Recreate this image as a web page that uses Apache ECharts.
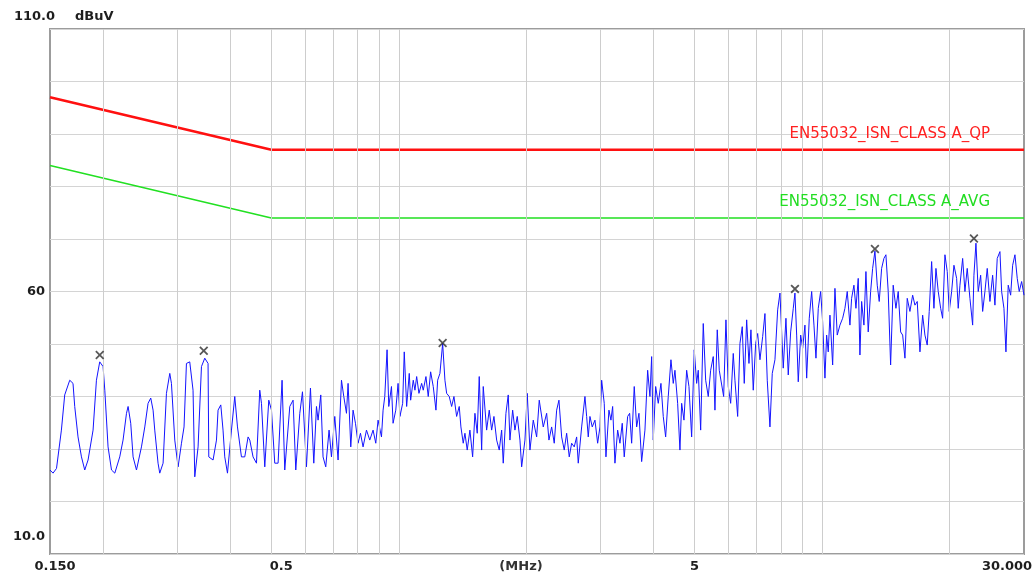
<!DOCTYPE html>
<html>
<head>
<meta charset="utf-8">
<script src="https://cdn.jsdelivr.net/npm/echarts@6/dist/echarts.min.js"></script>
<style>
  html, body { margin: 0; padding: 0; background: #ffffff; }
  #chart { width: 1034px; height: 575px; }
</style>
</head>
<body>
<div id="chart"></div>
<script>
// Conducted emission pre-scan: frequency (MHz) and measured level (dBuV)
const freqMHz = [
  0.150, 0.1525, 0.1554, 0.1596, 0.1625, 0.1670, 0.1700, 0.1716, 0.1747, 0.1780,
  0.1812, 0.1845, 0.1896, 0.1931, 0.1966, 0.2002, 0.2021, 0.2057, 0.2096, 0.2134,
  0.2192, 0.2232, 0.2274, 0.2294, 0.2327, 0.2357, 0.2401, 0.2467, 0.2512, 0.2557,
  0.2595, 0.2628, 0.2652, 0.2700, 0.2725, 0.2775, 0.2826, 0.2878, 0.2904, 0.2957,
  0.3011, 0.3067, 0.3110, 0.3151, 0.3208, 0.3266, 0.3297, 0.3357, 0.3419, 0.3481,
  0.3544, 0.3558, 0.3642, 0.3710, 0.3742, 0.3798, 0.3845, 0.3881, 0.3939, 0.4025,
  0.4098, 0.4159, 0.4250, 0.4327, 0.4406, 0.4447, 0.4527, 0.4612, 0.4695, 0.4739,
  0.4825, 0.4931, 0.5004, 0.5094, 0.5187, 0.5301, 0.5379, 0.5528, 0.5628, 0.5711,
  0.5837, 0.5923, 0.6053, 0.6186, 0.6299, 0.6392, 0.6448, 0.6543, 0.6625, 0.6723,
  0.6845, 0.6935, 0.7061, 0.7189, 0.7323, 0.7415, 0.7525, 0.7591, 0.7703, 0.7800,
  0.7902, 0.8015, 0.8120, 0.8236, 0.8390, 0.8542, 0.8697, 0.8825, 0.8936, 0.9103,
  0.9183, 0.9268, 0.9384, 0.9472, 0.9612, 0.9696, 0.9839, 0.9963,
  1.0065, 1.0215, 1.0304, 1.0439, 1.0588, 1.0669, 1.0821, 1.0921, 1.1023, 1.1161,
  1.1326, 1.1426, 1.1594, 1.1740, 1.1894, 1.2064, 1.2242, 1.2356, 1.2511, 1.2697,
  1.2856, 1.2976, 1.3160, 1.3334, 1.3502, 1.3701, 1.3896, 1.4024, 1.4201, 1.4333,
  1.4513, 1.4727, 1.4947, 1.5135, 1.5326, 1.5494, 1.5698, 1.5835, 1.6130, 1.6360,
  1.6576, 1.6784, 1.7033, 1.7275, 1.7502, 1.7655, 1.7915, 1.8142, 1.8309, 1.8582,
  1.8815, 1.9052, 1.9333, 1.9514, 1.9866, 2.0117, 2.0414, 2.0785, 2.1173, 2.1474,
  2.1947, 2.2356, 2.2638, 2.2973, 2.3300, 2.3606, 2.3903, 2.4257, 2.4602, 2.4925,
  2.5280, 2.5613, 2.5977, 2.6320, 2.6550, 2.7045, 2.7534, 2.7790, 2.8034, 2.8293,
  2.8650, 2.9073, 2.9505, 2.9875, 3.0153, 3.0582, 3.0866, 3.1375, 3.1717, 3.2014,
  3.2414, 3.2896, 3.3308, 3.3729, 3.4098, 3.4735, 3.5114, 3.5499, 3.6004, 3.6477,
  3.6937, 3.7483, 3.8160, 3.8728, 3.9213, 3.9579, 3.9926, 4.0451, 4.1027, 4.1632,
  4.2158, 4.2712, 4.3321, 4.3959, 4.4515, 4.4927, 4.5593, 4.6165, 4.6595, 4.7182,
  4.7879, 4.8483, 4.9200, 4.9900, 5.0557, 5.1000, 5.1670, 5.2406, 5.3095, 5.3852,
  5.4559, 5.5337, 5.5847, 5.6552, 5.7170, 5.8556, 5.9291, 6.0042, 6.0830, 6.1698,
  6.2266, 6.3191, 6.3983, 6.4791, 6.5498, 6.6361, 6.7197, 6.7929, 6.8788, 6.9691,
  7.0453, 7.1337, 7.2396, 7.3304, 7.4230, 7.5325, 7.6277, 7.7403, 7.8552, 7.9537,
  8.0983, 8.2176, 8.3216, 8.4309, 8.5511, 8.6299, 8.7104, 8.7868, 8.9022, 8.9996,
  9.1124, 9.1974, 9.3283, 9.4510, 9.5701, 9.6744, 9.7968, 9.9254,
  10.033, 10.159, 10.253, 10.343, 10.439, 10.594, 10.727, 10.862, 11.023, 11.186,
  11.326, 11.469, 11.638, 11.746, 11.894, 12.025, 12.176, 12.289, 12.403, 12.559,
  12.697, 12.856, 13.026, 13.168, 13.334, 13.502, 13.649, 13.828, 14.002, 14.155,
  14.333, 14.522, 14.727, 14.947, 15.135, 15.335, 15.503, 15.698, 15.895, 16.130,
  16.370, 16.576, 16.784, 17.033, 17.285, 17.502, 17.722, 17.915, 18.151, 18.380,
  18.582, 18.815, 19.063, 19.271, 19.514, 19.760, 19.975, 20.237, 20.493, 20.795,
  20.976, 21.173, 21.487, 21.756, 22.030, 22.356, 22.688, 22.848, 23.099, 23.388,
  23.697, 23.956, 24.257, 24.563, 24.925, 25.295, 25.613, 25.935, 26.320, 26.564,
  26.899, 27.193, 27.534, 27.898, 28.203, 28.557, 28.916, 29.232, 29.617, 30.000
];

const levelDbuV = [
  26.0, 25.4, 26.3, 33.6, 40.3, 43.1, 42.5, 38.1, 32.3, 28.5,
  26.0, 27.9, 33.6, 43.1, 46.6, 45.7, 41.2, 30.4, 26.0, 25.4,
  28.5, 31.7, 36.8, 38.1, 34.9, 28.5, 26.0, 30.4, 34.2, 38.7,
  39.7, 37.4, 33.6, 27.3, 25.4, 27.3, 40.6, 44.4, 42.5, 31.7,
  26.6, 31.1, 34.2, 46.3, 46.6, 41.2, 24.7, 30.4, 45.7, 47.3,
  46.3, 28.5, 27.9, 31.7, 37.4, 38.4, 33.6, 28.5, 25.4, 33.6,
  40.0, 34.2, 28.5, 28.5, 32.3, 31.7, 28.5, 27.3, 41.2, 38.7,
  26.6, 39.3, 37.4, 27.3, 27.3, 43.1, 26.0, 38.1, 39.3, 26.0,
  36.8, 40.9, 26.6, 41.6, 27.3, 38.1, 35.5, 40.3, 28.5, 26.6,
  33.6, 28.5, 36.2, 27.9, 43.1, 40.0, 36.8, 42.5, 30.4, 37.4,
  34.9, 31.1, 33.0, 30.4, 33.6, 31.7, 33.6, 31.1, 35.5, 32.3,
  37.4, 40.0, 48.9, 38.1, 41.9, 34.9, 37.4, 42.5,
  36.2, 38.7, 48.5, 38.1, 44.4, 39.3, 43.1, 41.2, 43.8, 40.6,
  42.5, 41.2, 43.8, 40.0, 44.7, 41.9, 37.4, 43.1, 44.4, 50.1,
  43.1, 40.6, 40.0, 38.1, 40.0, 36.2, 38.1, 34.2, 31.1, 33.0,
  29.8, 33.6, 28.5, 36.8, 33.0, 43.8, 29.8, 41.9, 33.6, 37.4,
  33.6, 36.2, 31.7, 29.8, 33.6, 27.3, 36.8, 40.3, 31.7, 37.4,
  33.6, 36.2, 31.7, 26.6, 31.7, 40.6, 29.8, 35.5, 32.3, 39.3,
  34.2, 36.8, 31.7, 34.2, 31.1, 37.4, 39.3, 32.3, 29.8, 33.0,
  28.5, 31.1, 30.4, 32.3, 27.3, 34.2, 40.0, 36.2, 32.3, 36.2,
  34.2, 35.5, 31.1, 34.2, 43.1, 38.7, 28.5, 37.4, 35.5, 38.1,
  27.3, 33.6, 31.1, 34.9, 28.5, 36.2, 36.8, 31.1, 41.9, 34.2,
  36.8, 27.6, 33.6, 45.0, 40.0, 47.6, 31.7, 41.9, 38.7, 42.5,
  36.2, 32.3, 40.0, 47.0, 42.5, 45.0, 38.7, 29.8, 38.7, 35.5,
  45.0, 41.9, 32.3, 48.9, 42.5, 45.0, 33.6, 53.9, 43.1, 40.0,
  45.0, 47.6, 37.4, 52.7, 45.0, 40.0, 54.6, 41.9, 38.7, 48.2,
  43.1, 36.2, 50.1, 53.3, 42.5, 54.6, 46.3, 52.7, 41.2, 50.1,
  52.0, 47.0, 51.4, 55.8, 43.1, 34.2, 44.4, 47.0, 56.5, 59.7,
  45.4, 54.9, 44.1, 52.3, 56.8, 59.7, 51.7, 42.8, 51.7, 49.2,
  53.6, 43.5, 54.9, 60.0, 53.6, 47.3, 56.8, 60.0,
  54.2, 43.5, 51.7, 48.5, 55.5, 46.0, 60.6, 51.7, 53.6, 54.9,
  56.8, 60.0, 53.6, 58.7, 61.2, 56.8, 62.5, 47.9, 58.1, 53.6,
  63.8, 52.3, 60.0, 64.4, 67.7, 61.2, 58.1, 64.4, 66.3, 67.0,
  60.0, 46.0, 61.2, 56.8, 60.0, 52.3, 51.7, 47.3, 58.7, 56.2,
  59.3, 57.4, 58.1, 48.5, 55.5, 51.7, 49.8, 56.2, 65.7, 56.8,
  64.4, 60.0, 56.8, 54.9, 67.0, 63.8, 56.2, 60.0, 65.0, 62.5,
  56.8, 61.2, 66.3, 60.0, 64.4, 58.7, 53.6, 63.1, 69.2, 60.0,
  63.1, 56.2, 60.0, 64.4, 58.1, 63.1, 57.4, 66.3, 67.6, 60.0,
  56.8, 48.5, 61.2, 59.3, 65.0, 67.0, 62.5, 60.0, 61.9, 59.3
];

// Marked peaks
const peakFreqMHz = [0.1966, 0.3462, 1.2697, 8.630, 13.334, 22.848];
const peakLevel = [47.9, 48.7, 50.2, 60.5, 68.1, 70.1];

// EN 55032 class A limits for the ISN (telecom) port
const limitFreqMHz = [0.15, 0.5, 30];
const qpLimit = [97, 87, 87];
const avgLimit = [84, 74, 74];
const qpName = 'EN55032_ISN_CLASS A_QP';
const avgName = 'EN55032_ISN_CLASS A_AVG';

// Axis ticks and labels
const gridFreqMHz = [0.2, 0.3, 0.4, 0.5, 0.6, 0.7, 0.8, 0.9, 1, 2, 3, 4, 5, 6, 7, 8, 9, 10, 20];
const xTickValues = [0.15, 0.5, 5, 30];
const xTickLabels = ['0.150', '0.5', '5', '30.000'];
const yTickValues = [110, 60, 10];
const yTickLabels = ['110.0', '60', '10.0'];
const xUnit = '(MHz)';
const yUnit = 'dBuV';

const pairs = (xs, ys) => xs.map((x, i) => [x, ys[i]]);

const chart = echarts.init(document.getElementById('chart'), null, { renderer: 'canvas' });

const crossSymbol = 'path://M0,1.4L1.4,0L5,3.6L8.6,0L10,1.4L6.4,5L10,8.6L8.6,10L5,6.4L1.4,10L0,8.6L3.6,5Z';

chart.setOption({
  animation: false,
  backgroundColor: '#ffffff',
  grid: {
    left: 50, right: 10, top: 29, bottom: 21,
    show: true,
    borderColor: '#9c9c9c',
    borderWidth: 2,
    backgroundColor: 'transparent',
    outerBoundsMode: 'none'
  },
  xAxis: {
    type: 'log',
    logBase: 10,
    min: 0.15,
    max: 30,
    axisLine: { show: false },
    axisTick: { show: false },
    axisLabel: { show: false },
    splitLine: { show: false }
  },
  yAxis: {
    type: 'value',
    min: 10,
    max: 110,
    interval: 10,
    axisLine: { show: false },
    axisTick: { show: false },
    axisLabel: { show: false },
    splitLine: { show: true, lineStyle: { color: '#d4d4d4', width: 1 } }
  },
  series: [
    {
      // vertical decade grid (1-2-3...9 per decade)
      type: 'line',
      data: [],
      z: 1,
      silent: true,
      markLine: {
        silent: true,
        symbol: ['none', 'none'],
        label: { show: false },
        animation: false,
        lineStyle: { color: '#cdcdcd', width: 1, type: 'solid' },
        data: gridFreqMHz.map(f => ({ xAxis: f }))
      }
    },
    {
      name: qpName,
      type: 'line',
      data: pairs(limitFreqMHz, qpLimit),
      showSymbol: false,
      z: 3,
      lineStyle: { color: '#ff1010', width: 2.5 }
    },
    {
      name: avgName,
      type: 'line',
      data: pairs(limitFreqMHz, avgLimit),
      showSymbol: false,
      z: 3,
      lineStyle: { color: '#22e022', width: 1.6 }
    },
    {
      name: 'Level',
      type: 'line',
      data: pairs(freqMHz, levelDbuV),
      showSymbol: false,
      z: 4,
      lineStyle: { color: '#1414ff', width: 1 }
    },
    {
      name: 'Peaks',
      type: 'scatter',
      data: pairs(peakFreqMHz, peakLevel),
      symbol: crossSymbol,
      symbolSize: 9,
      z: 5,
      itemStyle: { color: '#2e2e2e' }
    }
  ]
});

// Axis texts placed through the chart's own coordinate conversion
const px = v => chart.convertToPixel({ xAxisIndex: 0 }, v);
const py = v => chart.convertToPixel({ yAxisIndex: 0 }, v);
const axisFont = 'bold 13px "DejaVu Sans", "Liberation Sans", sans-serif';
const limitFont = '15px "DejaVu Sans", "Liberation Sans", sans-serif';
const textEl = (x, y, text, font, fill, align) => ({
  type: 'text', x: x, y: y, silent: true, z: 10,
  style: {
    text: text, font: font, fill: fill,
    align: align, textAlign: align,
    verticalAlign: 'middle', textVerticalAlign: 'middle'
  }
});

const xShift = [5, 10, 0, -17];
const yShift = [[10, -12], [0, 0], [0, -17]];
const labelRow = py(10) + 13;
const graphics = [];
xTickValues.forEach((v, i) => {
  graphics.push(textEl(px(v) + xShift[i], labelRow, xTickLabels[i], axisFont, '#1e1e1e', 'center'));
});
yTickValues.forEach((v, i) => {
  graphics.push(textEl(45 + yShift[i][0], py(v) + yShift[i][1], yTickLabels[i], axisFont, '#1e1e1e', 'right'));
});
graphics.push(textEl(521, labelRow, xUnit, axisFont, '#333333', 'center'));
graphics.push(textEl(75, py(110) - 12, yUnit, axisFont, '#1e1e1e', 'left'));
graphics.push(textEl(990, py(qpLimit[2]) - 16, qpName, limitFont, '#ff2020', 'right'));
graphics.push(textEl(990, py(avgLimit[2]) - 16, avgName, limitFont, '#22dd22', 'right'));

chart.setOption({ graphic: graphics });
</script>
</body>
</html>
